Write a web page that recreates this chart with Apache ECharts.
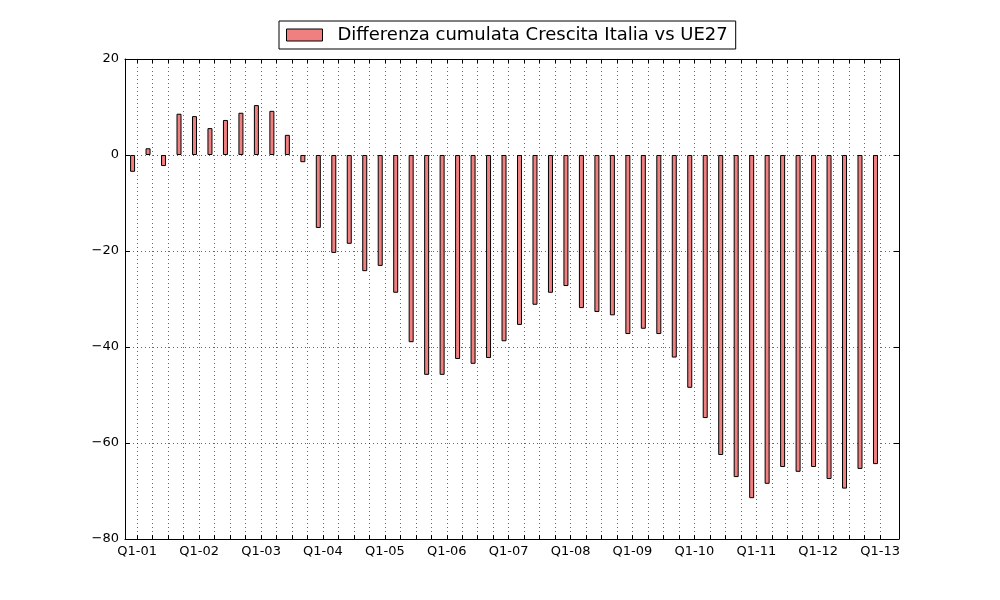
<!DOCTYPE html>
<html>
<head>
<meta charset="utf-8">
<script src="https://cdn.jsdelivr.net/npm/echarts@6/dist/echarts.min.js"></script>
<style>
  html, body { margin: 0; background: #fff; }
  #chart { width: 1000px; height: 600px; }
</style>
</head>
<body>
<div id="chart"></div>
<script>
// quarters Q1-01 .. Q1-13
const quarters = [
  'Q1-01','Q2-01','Q3-01','Q4-01','Q1-02','Q2-02','Q3-02','Q4-02',
  'Q1-03','Q2-03','Q3-03','Q4-03','Q1-04','Q2-04','Q3-04','Q4-04',
  'Q1-05','Q2-05','Q3-05','Q4-05','Q1-06','Q2-06','Q3-06','Q4-06',
  'Q1-07','Q2-07','Q3-07','Q4-07','Q1-08','Q2-08','Q3-08','Q4-08',
  'Q1-09','Q2-09','Q3-09','Q4-09','Q1-10','Q2-10','Q3-10','Q4-10',
  'Q1-11','Q2-11','Q3-11','Q4-11','Q1-12','Q2-12','Q3-12','Q4-12',
  'Q1-13'
];
const diffCum = [
  -3.5, 1.4, -2.3, 8.6, 8.1, 5.6, 7.3, 8.8,
  10.4, 9.2, 4.2, -1.5, -15.2, -20.4, -18.5, -24.2,
  -23.1, -28.7, -39.0, -45.8, -45.8, -42.5, -43.5, -42.3,
  -38.8, -35.4, -31.2, -28.7, -27.3, -31.9, -32.7, -33.4,
  -37.3, -36.2, -37.3, -42.2, -48.5, -54.8, -62.5, -67.1,
  -71.5, -68.5, -65.0, -66.0, -65.0, -67.5, -69.5, -65.4,
  -64.4
];
const labelTicks = [0, 4, 8, 12, 16, 20, 24, 28, 32, 36, 40, 44, 48];
const seriesName = 'Differenza cumulata Crescita Italia vs UE27';

const font = 'DejaVu Sans';
const allTicks = quarters.map((q, i) => i);
const dotted = { show: true, lineStyle: { color: '#000', width: 0.6, type: [1, 3] } };

const chart = echarts.init(document.getElementById('chart'));

function xAx(pos, showLabel) {
  return {
    type: 'value', position: pos, min: -0.79, max: 49.22,
    axisLine: { onZero: false, lineStyle: { color: '#000', width: 1 } },
    axisTick: { inside: true, length: 4, customValues: allTicks, lineStyle: { color: '#000' } },
    axisLabel: {
      show: showLabel, customValues: labelTicks, margin: 6,
      fontFamily: font, fontSize: 13, color: '#000',
      formatter: v => quarters[Math.round(v)]
    },
    splitLine: showLabel ? dotted : { show: false }
  };
}
function yAx(pos, showLabel) {
  return {
    type: 'value', position: pos, min: -80, max: 20, interval: 20,
    axisLine: { show: true, onZero: false, lineStyle: { color: '#000', width: 1 } },
    axisTick: { show: true, inside: true, length: 5, lineStyle: { color: '#000' } },
    axisLabel: {
      show: showLabel, margin: 6, fontFamily: font, fontSize: 13, color: '#000',
      formatter: v => v < 0 ? '\u2212' + (-v) : String(v)
    },
    splitLine: showLabel ? dotted : { show: false }
  };
}

chart.setOption({
  animation: false,
  backgroundColor: '#fff',
  grid: { left: 125, right: 101, top: 59, bottom: 61, containLabel: false },
  legend: {
    data: [{ name: seriesName, icon: 'rect' }], top: 21, left: 279,
    itemWidth: 36, itemHeight: 12,
    borderColor: '#000', borderWidth: 1, borderRadius: 0,
    padding: [5, 8, 5, 7],
    textStyle: { fontFamily: font, fontSize: 18, color: '#000', padding: [0, 0, 0, 10] },
    itemStyle: { borderColor: '#000', borderWidth: 1 }
  },
  xAxis: [xAx('bottom', true), xAx('top', false)],
  yAxis: [yAx('left', true), yAx('right', false)],
  series: [{
    name: seriesName, type: 'bar', xAxisIndex: 0, yAxisIndex: 0,
    barWidth: 5,
    itemStyle: { color: '#F08080', borderColor: '#000', borderWidth: 1 },
    data: diffCum.map((v, i) => [i - 0.3, v])
  }]
});
</script>
</body>
</html>
